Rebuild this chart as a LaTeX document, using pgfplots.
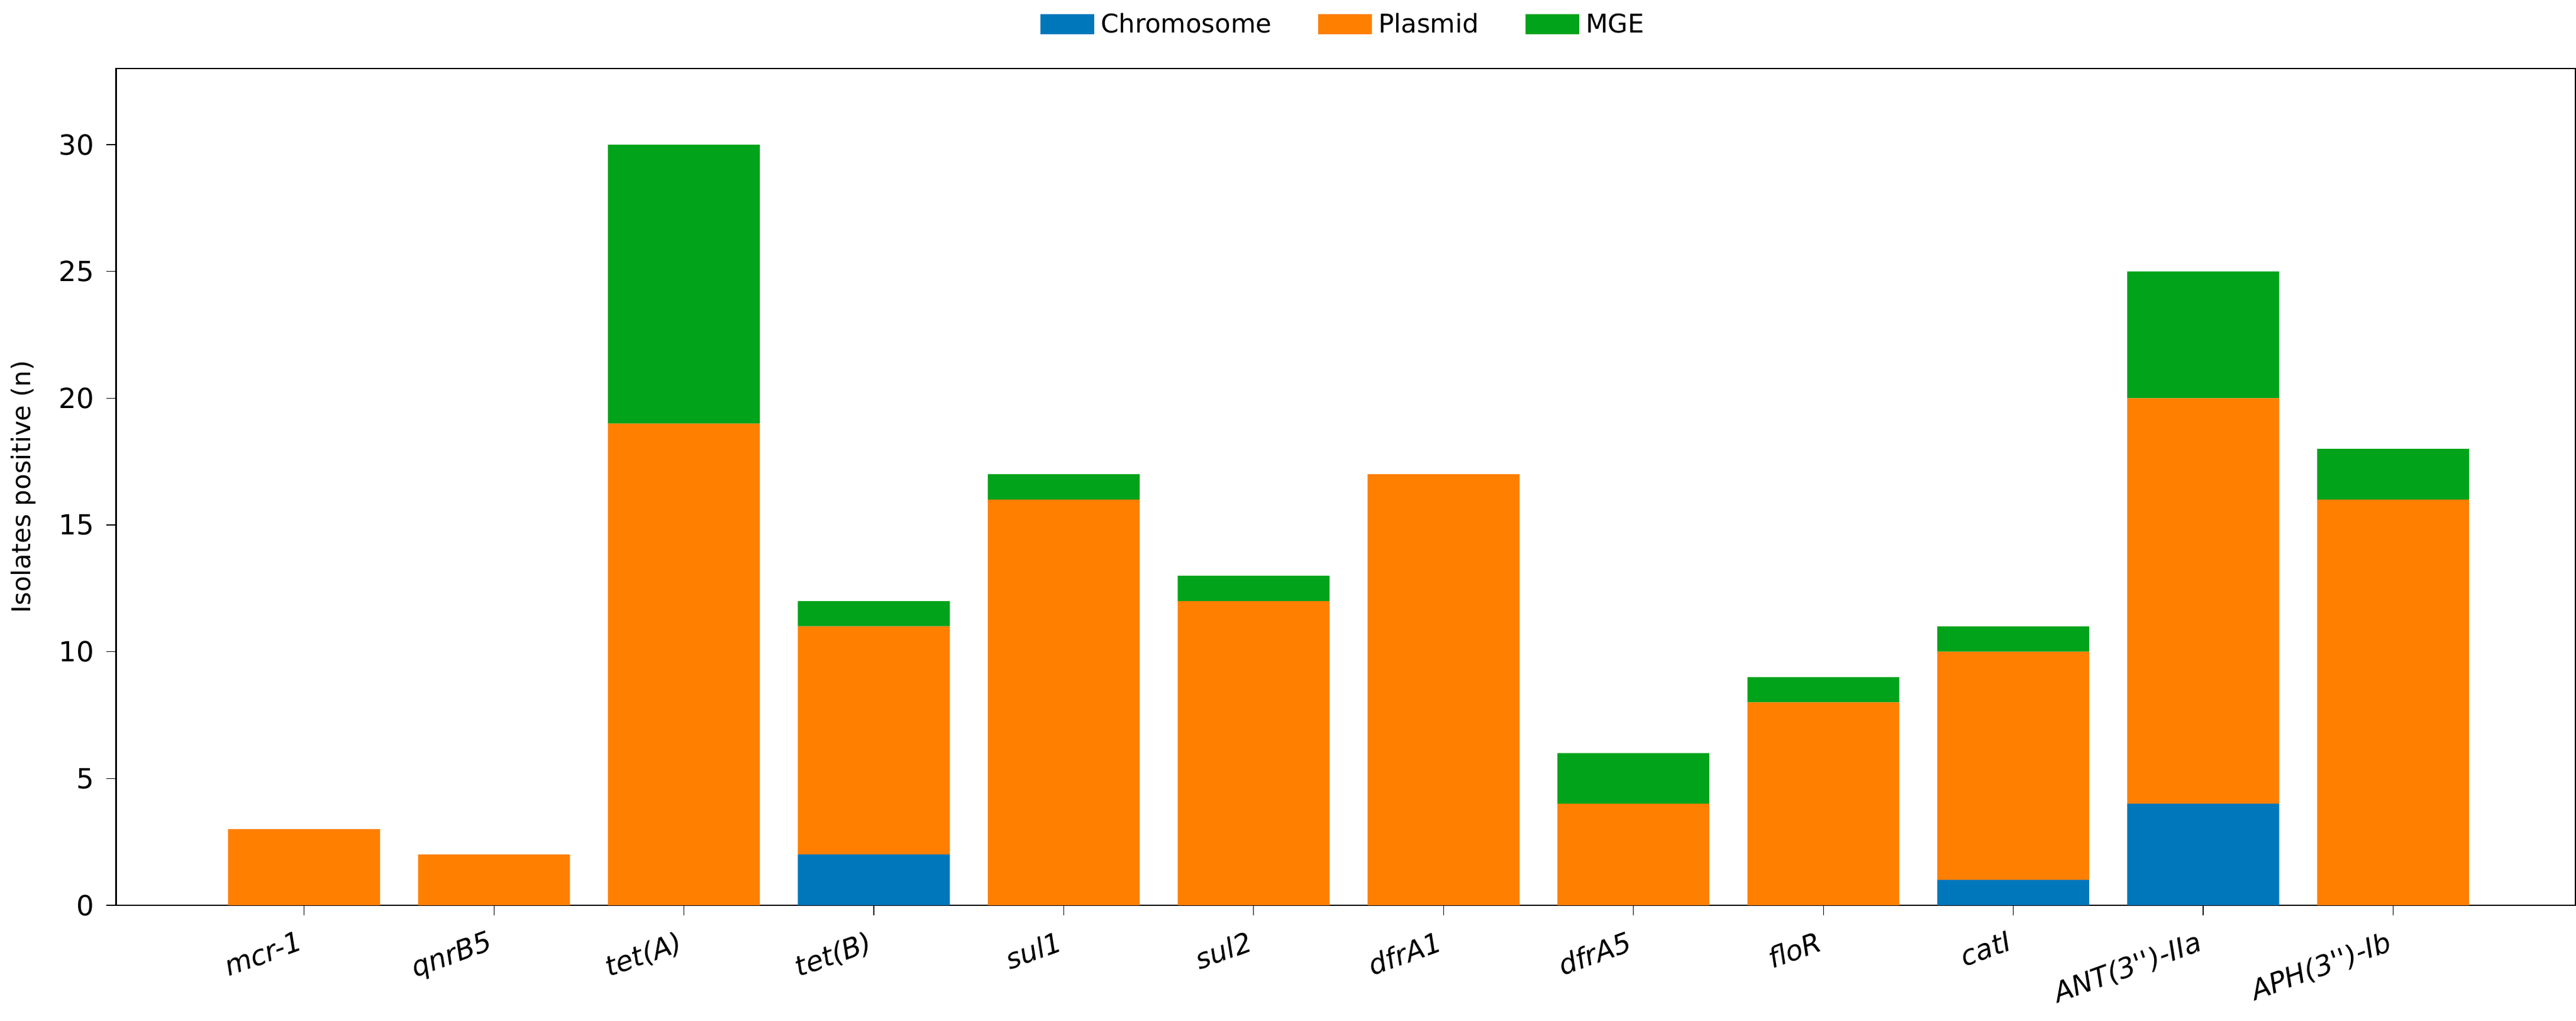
\documentclass[border=0pt]{standalone}
\usepackage{pgfplots}
\pgfplotsset{compat=1.18}
\usepackage{fontspec}
\setmainfont{DejaVu Sans}
\definecolor{cchr}{HTML}{0077BB}
\definecolor{cpla}{HTML}{FF7F00}
\definecolor{cmge}{HTML}{00A31A}
\newcommand{\pp}{\textquotesingle\textquotesingle}
\begin{document}
\begin{tikzpicture}
\begin{axis}[
  width=736pt, height=250.5pt, scale only axis,
  ybar stacked, bar width=0.8,
  xmin=-0.99, xmax=11.96, ymin=0, ymax=33,
  xtick={0,...,11},
  xticklabels={\textit{mcr-1},\textit{qnrB5},\textit{tet(A)},\textit{tet(B)},\textit{sul1},\textit{sul2},\textit{dfrA1},\textit{dfrA5},\textit{floR},\textit{catI},\textit{ANT(3\pp)-IIa},\textit{APH(3\pp)-Ib}},
  xticklabel style={rotate=20, anchor=north east, font=\fontsize{8.3}{10}\selectfont},
  yticklabel style={font=\fontsize{8.3}{10}\selectfont},
  ytick={0,5,...,30},
  xtick pos=bottom, ytick pos=left,
  /pgf/number format/assume math mode=true,
  ylabel={Isolates positive (n)},
  ylabel style={font=\fontsize{7.7}{9}\selectfont},
  tick align=outside, tick style={black},
  major tick length=3pt,
  legend style={at={(0.5,1.02)}, anchor=south, draw=none, legend columns=3, font=\fontsize{7.7}{9}\selectfont, /tikz/every even column/.append style={column sep=12pt}},
  legend image code/.code={\draw[#1, draw=none] (0pt,-2.5pt) rectangle (16pt,3.5pt);},
]
\addplot[fill=cchr, draw=none] coordinates {(0,0)(1,0)(2,0)(3,2)(4,0)(5,0)(6,0)(7,0)(8,0)(9,1)(10,4)(11,0)};
\addplot[fill=cpla, draw=none] coordinates {(0,3)(1,2)(2,19)(3,9)(4,16)(5,12)(6,17)(7,4)(8,8)(9,9)(10,16)(11,16)};
\addplot[fill=cmge, draw=none] coordinates {(0,0)(1,0)(2,11)(3,1)(4,1)(5,1)(6,0)(7,2)(8,1)(9,1)(10,5)(11,2)};
\legend{Chromosome,Plasmid,MGE}
\end{axis}
\end{tikzpicture}
\end{document}
